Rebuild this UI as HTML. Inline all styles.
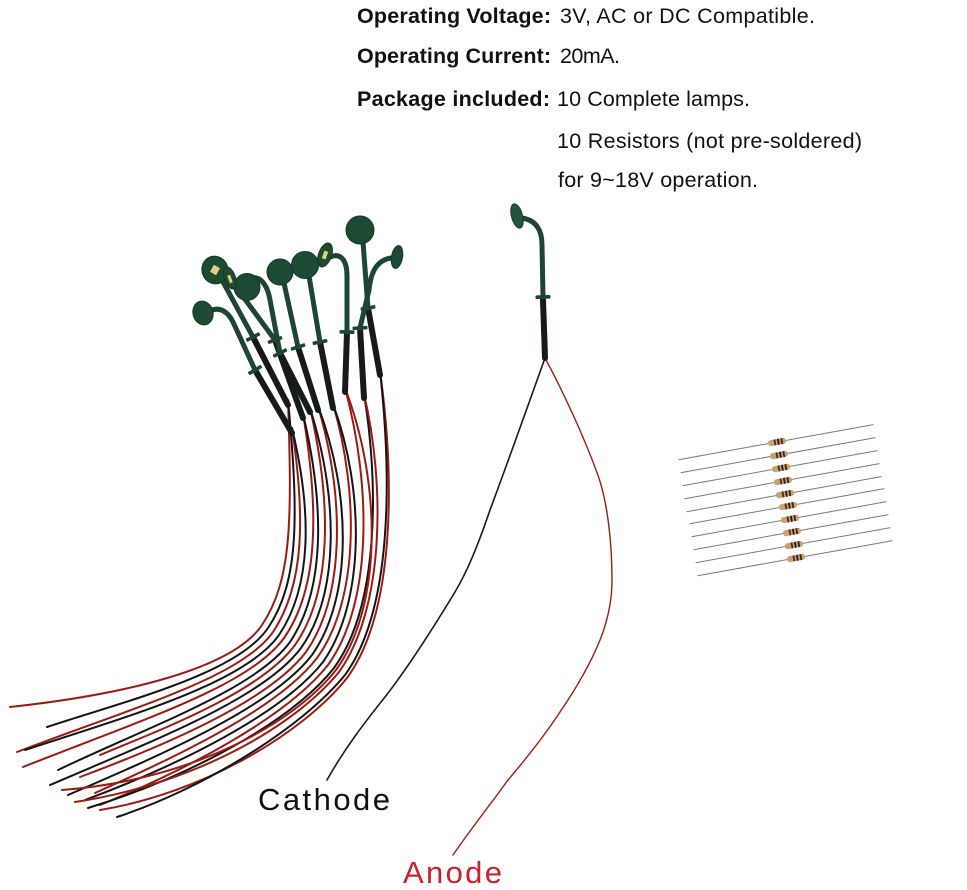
<!DOCTYPE html>
<html>
<head>
<meta charset="utf-8">
<style>
  html, body { margin: 0; padding: 0; background: #ffffff; }
  body { width: 967px; height: 890px; overflow: hidden; }
  svg { display: block; }
</style>
</head>
<body>
<svg width="967" height="890" viewBox="0 0 967 890" xmlns="http://www.w3.org/2000/svg">
  <rect width="967" height="890" fill="#ffffff"/>

  <!-- Top text -->
  <g font-family="'Liberation Sans', Arial, sans-serif" font-size="21.5" fill="#111111">
    <text x="357" y="23" font-weight="bold" textLength="194" lengthAdjust="spacing">Operating Voltage:</text>
    <text x="560" y="23" textLength="255" lengthAdjust="spacing">3V, AC or DC Compatible.</text>
    <text x="357" y="63" font-weight="bold" textLength="194" lengthAdjust="spacing">Operating Current:</text>
    <text x="560" y="63" textLength="60" lengthAdjust="spacing">20mA.</text>
    <text x="357" y="106" font-weight="bold" textLength="193" lengthAdjust="spacing">Package included:</text>
    <text x="557" y="106" textLength="193" lengthAdjust="spacing">10 Complete lamps.</text>
    <text x="557" y="148" textLength="305" lengthAdjust="spacing">10 Resistors (not pre-soldered)</text>
    <text x="558" y="187" textLength="200" lengthAdjust="spacing">for 9~18V operation.</text>
  </g>

  <!-- Cluster wires -->
  <g fill="none" stroke-width="2" stroke-linecap="round">
    <path stroke="#9b1b14" d="M288,400 C292,520 292,580 262,625 C232,670 120,695 10,707"/>
    <path stroke="#141414" d="M288,400 C299,517 299,582 268,628 C237,674 125,701 47,727"/>
    <path stroke="#9b1b14" d="M292,428 C305,515 305,584 273,632 C241,678 131,708 17,752"/>
    <path stroke="#141414" d="M292,428 C312,512 312,586 279,635 C246,682 136,714 25,750"/>
    <path stroke="#9b1b14" d="M303,414 C319,509 319,588 284,638 C250,686 141,720 23,767"/>
    <path stroke="#141414" d="M303,414 C325,507 325,590 290,642 C255,690 147,727 58,770"/>
    <path stroke="#9b1b14" d="M310,408 C332,504 332,592 295,645 C259,694 152,733 100,755"/>
    <path stroke="#141414" d="M310,408 C339,501 339,594 301,648 C264,698 157,739 50,785"/>
    <path stroke="#9b1b14" d="M318,406 C345,499 345,596 306,652 C268,702 163,746 80,777"/>
    <path stroke="#141414" d="M318,406 C352,496 352,598 312,655 C273,706 168,752 68,795"/>
    <path stroke="#9b1b14" d="M333,404 C359,493 359,600 317,658 C277,710 173,758 95,793"/>
    <path stroke="#141414" d="M333,404 C365,491 365,602 323,662 C282,714 179,765 85,800"/>
    <path stroke="#9b1b14" d="M345,388 C372,488 372,604 328,665 C286,718 184,771 100,805"/>
    <path stroke="#141414" d="M364,394 C379,485 379,606 334,668 C291,722 189,777 88,808"/>
    <path stroke="#9b1b14" d="M364,394 C385,483 385,608 339,672 C295,726 195,784 75,802"/>
    <path stroke="#9b1b14" d="M345,388 C382,484 382,607 336,670 C293,724 192,780 62,790"/>
    <path stroke="#9b1b14" d="M380,371 C395,480 395,612 347,678 C302,734 203,793 100,810"/>
    <path stroke="#141414" d="M380,371 C392,480 392,610 345,675 C300,730 200,790 117,817"/>
  </g>

  <!-- Sleeves -->
  <g stroke="#161a18" stroke-width="6" stroke-linecap="round" fill="none">
    <path d="M255,370 L292,433"/>
    <path d="M253,337 L288,405"/>
    <path d="M275,340 L303,418"/>
    <path d="M280,353 L310,412"/>
    <path d="M298,347 L318,410"/>
    <path d="M320,342 L333,408"/>
    <path d="M347,332 L345,392"/>
    <path d="M368,308 L380,375"/>
    <path d="M360,328 L364,398"/>
  </g>

  <!-- Necks -->
  <g stroke="#1c4532" stroke-width="5" stroke-linecap="round" fill="none">
    <path d="M210,311 C220,306 228,312 233,322 L255,370"/>
    <path d="M222,280 L253,337"/>
    <path d="M233,283 L275,340"/>
    <path d="M252,278 C262,276 268,288 270,300 L280,353"/>
    <path d="M284,283 L298,347"/>
    <path d="M309,276 L320,342"/>
    <path d="M330,257 C342,252 347,262 347,276 L347,332"/>
    <path d="M363,242 L368,308"/>
    <path d="M391,258 C378,260 371,270 369,290 L360,328"/>
  </g>

  <!-- Collars -->
  <g fill="#1c4532">
    <rect x="-7.5" y="-1.8" width="15" height="3.6" rx="1" transform="translate(255,370) rotate(-30.4)"/>
    <rect x="-7.5" y="-1.8" width="15" height="3.6" rx="1" transform="translate(253,337) rotate(-27.2)"/>
    <rect x="-7.5" y="-1.8" width="15" height="3.6" rx="1" transform="translate(275,340) rotate(-19.7)"/>
    <rect x="-7.5" y="-1.8" width="15" height="3.6" rx="1" transform="translate(280,353) rotate(-27)"/>
    <rect x="-7.5" y="-1.8" width="15" height="3.6" rx="1" transform="translate(298,347) rotate(-17.6)"/>
    <rect x="-7.5" y="-1.8" width="15" height="3.6" rx="1" transform="translate(320,342) rotate(-11.1)"/>
    <rect x="-7.5" y="-1.8" width="15" height="3.6" rx="1" transform="translate(347,332) rotate(1.9)"/>
    <rect x="-7.5" y="-1.8" width="15" height="3.6" rx="1" transform="translate(368,308) rotate(-10.2)"/>
    <rect x="-7.5" y="-1.8" width="15" height="3.6" rx="1" transform="translate(360,328) rotate(-3.3)"/>
  </g>

  <!-- Heads -->
  <g fill="#1d4a33" stroke="#163826" stroke-width="1">
    <ellipse cx="203" cy="313" rx="10" ry="12" transform="rotate(-15 203 313)"/>
    <ellipse cx="247" cy="287" rx="13" ry="13.5"/>
    <ellipse cx="215" cy="270" rx="13" ry="14" transform="rotate(-20 215 270)"/>
    <ellipse cx="230" cy="278" rx="5.5" ry="11.5" transform="rotate(-20 230 278)"/>
    <ellipse cx="280" cy="272" rx="13" ry="13"/>
    <ellipse cx="305" cy="265" rx="13.5" ry="13.5"/>
    <ellipse cx="325" cy="255" rx="6.5" ry="12.5" transform="rotate(20 325 255)"/>
    <ellipse cx="360" cy="230" rx="14" ry="14"/>
    <ellipse cx="397" cy="257" rx="5.5" ry="11.5" transform="rotate(10 397 257)"/>
  </g>
  <!-- LED chips -->
  <g fill="#e3cf7a">
    <rect x="-3.5" y="-4" width="7" height="8" transform="translate(215,270) rotate(30)"/>
    <rect x="-1.5" y="-4" width="3" height="8" transform="translate(230,279) rotate(-20)"/>
    <rect x="-2" y="-4" width="4" height="8" transform="translate(325,255) rotate(20)"/>
  </g>

  <!-- Single lamp on right -->
  <path d="M545,358 C530,400 505,470 490,510 C478,545 468,570 455,592 C435,625 410,665 385,697 C365,722 345,748 327,780" fill="none" stroke="#1a1a1a" stroke-width="1.6" stroke-linecap="round"/>
  <path d="M545,358 C565,395 585,440 596,470 C608,500 612,545 612,580 C612,600 608,620 600,640 C590,665 575,690 560,712 C545,735 525,760 508,780 C490,805 470,830 453,855" fill="none" stroke="#9b1b14" stroke-width="1.4" stroke-linecap="round"/>
  <path d="M543,300 L545,358" stroke="#161a18" stroke-width="6" stroke-linecap="round"/>
  <path d="M522,218 C536,220 542,230 542,245 L543,297" fill="none" stroke="#1c4532" stroke-width="5" stroke-linecap="round"/>
  <rect x="-7.5" y="-1.8" width="15" height="3.6" rx="1" fill="#1c4532" transform="translate(543,297) rotate(-2)"/>
  <ellipse cx="517" cy="216" rx="5.5" ry="12.5" fill="#24553d" stroke="#163826" stroke-width="1" transform="rotate(-15 517 216)"/>

  <!-- Resistors -->
  <g>
    <g transform="translate(777,442) rotate(-10.2)"><line x1="-100" y1="0" x2="98" y2="0" stroke="#7a7a7a" stroke-width="1"/><rect x="-9" y="-3" width="18" height="6" rx="2.5" fill="#c9a272"/><rect x="-3" y="-3" width="1.8" height="6" fill="#4a2e1a"/><rect x="0.5" y="-3" width="1.8" height="6" fill="#2a1a10"/><rect x="4" y="-3" width="1.8" height="6" fill="#3a2414"/></g>
    <g transform="translate(779,455) rotate(-10.2)"><line x1="-100" y1="0" x2="98" y2="0" stroke="#7a7a7a" stroke-width="1"/><rect x="-9" y="-3" width="18" height="6" rx="2.5" fill="#c9a272"/><rect x="-3" y="-3" width="1.8" height="6" fill="#4a2e1a"/><rect x="0.5" y="-3" width="1.8" height="6" fill="#2a1a10"/><rect x="4" y="-3" width="1.8" height="6" fill="#3a2414"/></g>
    <g transform="translate(781,468) rotate(-10.2)"><line x1="-100" y1="0" x2="98" y2="0" stroke="#7a7a7a" stroke-width="1"/><rect x="-9" y="-3" width="18" height="6" rx="2.5" fill="#c9a272"/><rect x="-3" y="-3" width="1.8" height="6" fill="#4a2e1a"/><rect x="0.5" y="-3" width="1.8" height="6" fill="#2a1a10"/><rect x="4" y="-3" width="1.8" height="6" fill="#3a2414"/></g>
    <g transform="translate(783,481) rotate(-10.2)"><line x1="-100" y1="0" x2="98" y2="0" stroke="#7a7a7a" stroke-width="1"/><rect x="-9" y="-3" width="18" height="6" rx="2.5" fill="#c9a272"/><rect x="-3" y="-3" width="1.8" height="6" fill="#4a2e1a"/><rect x="0.5" y="-3" width="1.8" height="6" fill="#2a1a10"/><rect x="4" y="-3" width="1.8" height="6" fill="#3a2414"/></g>
    <g transform="translate(785,494) rotate(-10.2)"><line x1="-100" y1="0" x2="98" y2="0" stroke="#7a7a7a" stroke-width="1"/><rect x="-9" y="-3" width="18" height="6" rx="2.5" fill="#c9a272"/><rect x="-3" y="-3" width="1.8" height="6" fill="#4a2e1a"/><rect x="0.5" y="-3" width="1.8" height="6" fill="#2a1a10"/><rect x="4" y="-3" width="1.8" height="6" fill="#3a2414"/></g>
    <g transform="translate(788,506) rotate(-10.2)"><line x1="-100" y1="0" x2="98" y2="0" stroke="#7a7a7a" stroke-width="1"/><rect x="-9" y="-3" width="18" height="6" rx="2.5" fill="#c9a272"/><rect x="-3" y="-3" width="1.8" height="6" fill="#4a2e1a"/><rect x="0.5" y="-3" width="1.8" height="6" fill="#2a1a10"/><rect x="4" y="-3" width="1.8" height="6" fill="#3a2414"/></g>
    <g transform="translate(790,519) rotate(-10.2)"><line x1="-100" y1="0" x2="98" y2="0" stroke="#7a7a7a" stroke-width="1"/><rect x="-9" y="-3" width="18" height="6" rx="2.5" fill="#c9a272"/><rect x="-3" y="-3" width="1.8" height="6" fill="#4a2e1a"/><rect x="0.5" y="-3" width="1.8" height="6" fill="#2a1a10"/><rect x="4" y="-3" width="1.8" height="6" fill="#3a2414"/></g>
    <g transform="translate(792,532) rotate(-10.2)"><line x1="-100" y1="0" x2="98" y2="0" stroke="#7a7a7a" stroke-width="1"/><rect x="-9" y="-3" width="18" height="6" rx="2.5" fill="#c9a272"/><rect x="-3" y="-3" width="1.8" height="6" fill="#4a2e1a"/><rect x="0.5" y="-3" width="1.8" height="6" fill="#2a1a10"/><rect x="4" y="-3" width="1.8" height="6" fill="#3a2414"/></g>
    <g transform="translate(794,545) rotate(-10.2)"><line x1="-100" y1="0" x2="98" y2="0" stroke="#7a7a7a" stroke-width="1"/><rect x="-9" y="-3" width="18" height="6" rx="2.5" fill="#c9a272"/><rect x="-3" y="-3" width="1.8" height="6" fill="#4a2e1a"/><rect x="0.5" y="-3" width="1.8" height="6" fill="#2a1a10"/><rect x="4" y="-3" width="1.8" height="6" fill="#3a2414"/></g>
    <g transform="translate(796,558) rotate(-10.2)"><line x1="-100" y1="0" x2="98" y2="0" stroke="#7a7a7a" stroke-width="1"/><rect x="-9" y="-3" width="18" height="6" rx="2.5" fill="#c9a272"/><rect x="-3" y="-3" width="1.8" height="6" fill="#4a2e1a"/><rect x="0.5" y="-3" width="1.8" height="6" fill="#2a1a10"/><rect x="4" y="-3" width="1.8" height="6" fill="#3a2414"/></g>
  </g>

  <!-- Labels -->
  <text x="258" y="810" font-family="'Liberation Sans', Arial, sans-serif" font-size="31" fill="#111111" textLength="132" lengthAdjust="spacing">Cathode</text>
  <text x="403" y="883" font-family="'Liberation Sans', Arial, sans-serif" font-size="31" fill="#cc1f2b" textLength="99" lengthAdjust="spacing">Anode</text>
</svg>
</body>
</html>
